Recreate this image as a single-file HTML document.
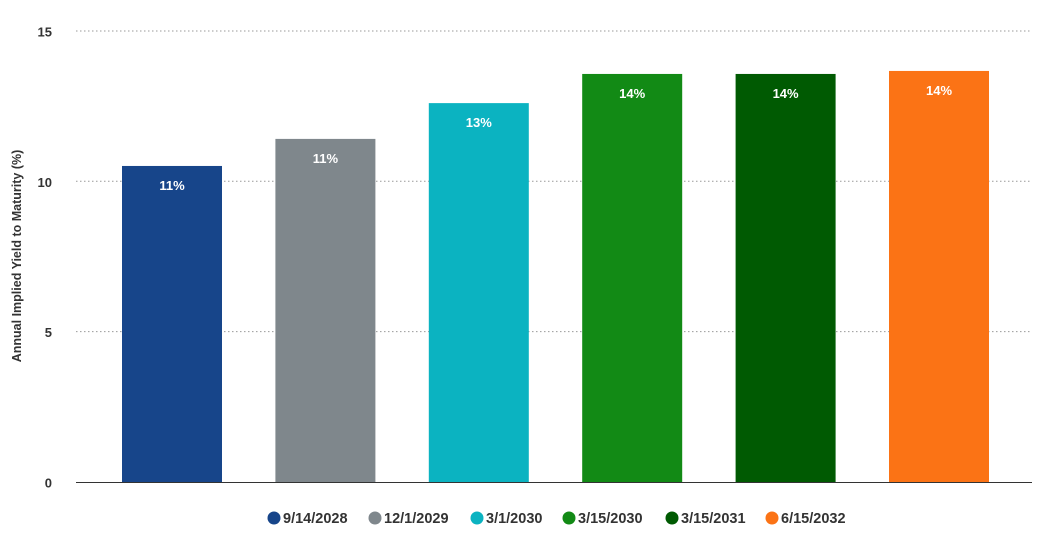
<!DOCTYPE html>
<html><head><meta charset="utf-8"><style>
body{margin:0;background:#fff;font-family:"Liberation Sans",sans-serif}
svg text{font-family:"Liberation Sans",sans-serif}
</style></head><body>
<svg width="1044" height="540">
<g id="grid"></g><g id="bars"></g><g id="legend"></g>
<text transform="translate(21,256) rotate(-90)" text-anchor="middle" font-size="12.5" font-weight="bold" fill="#333">Annual Implied Yield to Maturity (%)</text>
</svg>
<script>
const categories=["9/14/2028","12/1/2029","3/1/2030","3/15/2030","3/15/2031","6/15/2032"];
const values=[10.51,11.41,12.6,13.57,13.57,13.67];
const labels=["11%","11%","13%","14%","14%","14%"];
const ticks=[0,5,10,15];
const colors=["#17458a","#7f878c","#0bb3c1","#128a15","#005a02","#fb7315"];
const NS="http://www.w3.org/2000/svg";
const y=v=>482-v*30.07;
const bandX=i=>95.3+i*153.4;
function mk(t,a,p){const e=document.createElementNS(NS,t);for(const k in a)e.setAttribute(k,a[k]);p.appendChild(e);return e;}
const g=document.getElementById('grid');
ticks.forEach(t=>{
 if(t>0){const l=mk('line',{x1:76,x2:1032,y1:y(t),y2:y(t),stroke:'#999','stroke-dasharray':'1.5,2.5'},g);
 
 }
 const tx=mk('text',{x:52,y:y(t)+5.5,'text-anchor':'end','font-size':'13','font-weight':'bold',fill:'#333'},g);tx.textContent=t;
 
 
});
const ax=mk('line',{x1:76,x2:1032,y1:482.5,y2:482.5,stroke:'#333','stroke-width':1},g);


const b=document.getElementById('bars');
values.forEach((v,i)=>{
 const cx=bandX(i)+76.7;
 const r=mk('rect',{x:cx-50,y:y(v),width:100,height:482-y(v),fill:colors[i]},b);
 
 
 const t=mk('text',{x:cx,y:y(v)+24,'text-anchor':'middle','font-size':'13','font-weight':'bold',fill:'#fff'},b);t.textContent=labels[i];
 
 
});
const lg=document.getElementById('legend');
const lx=[274,375,477,569,672,772];
categories.forEach((c,i)=>{
 const gg=mk('g',{},lg);
 
 
 mk('circle',{cx:lx[i],cy:518,r:6.5,fill:colors[i]},gg);
 const t=mk('text',{x:lx[i]+9,y:523,'font-size':'14.5','font-weight':'bold',fill:'#333'},gg);t.textContent=c;
});
</script>
</body></html>
